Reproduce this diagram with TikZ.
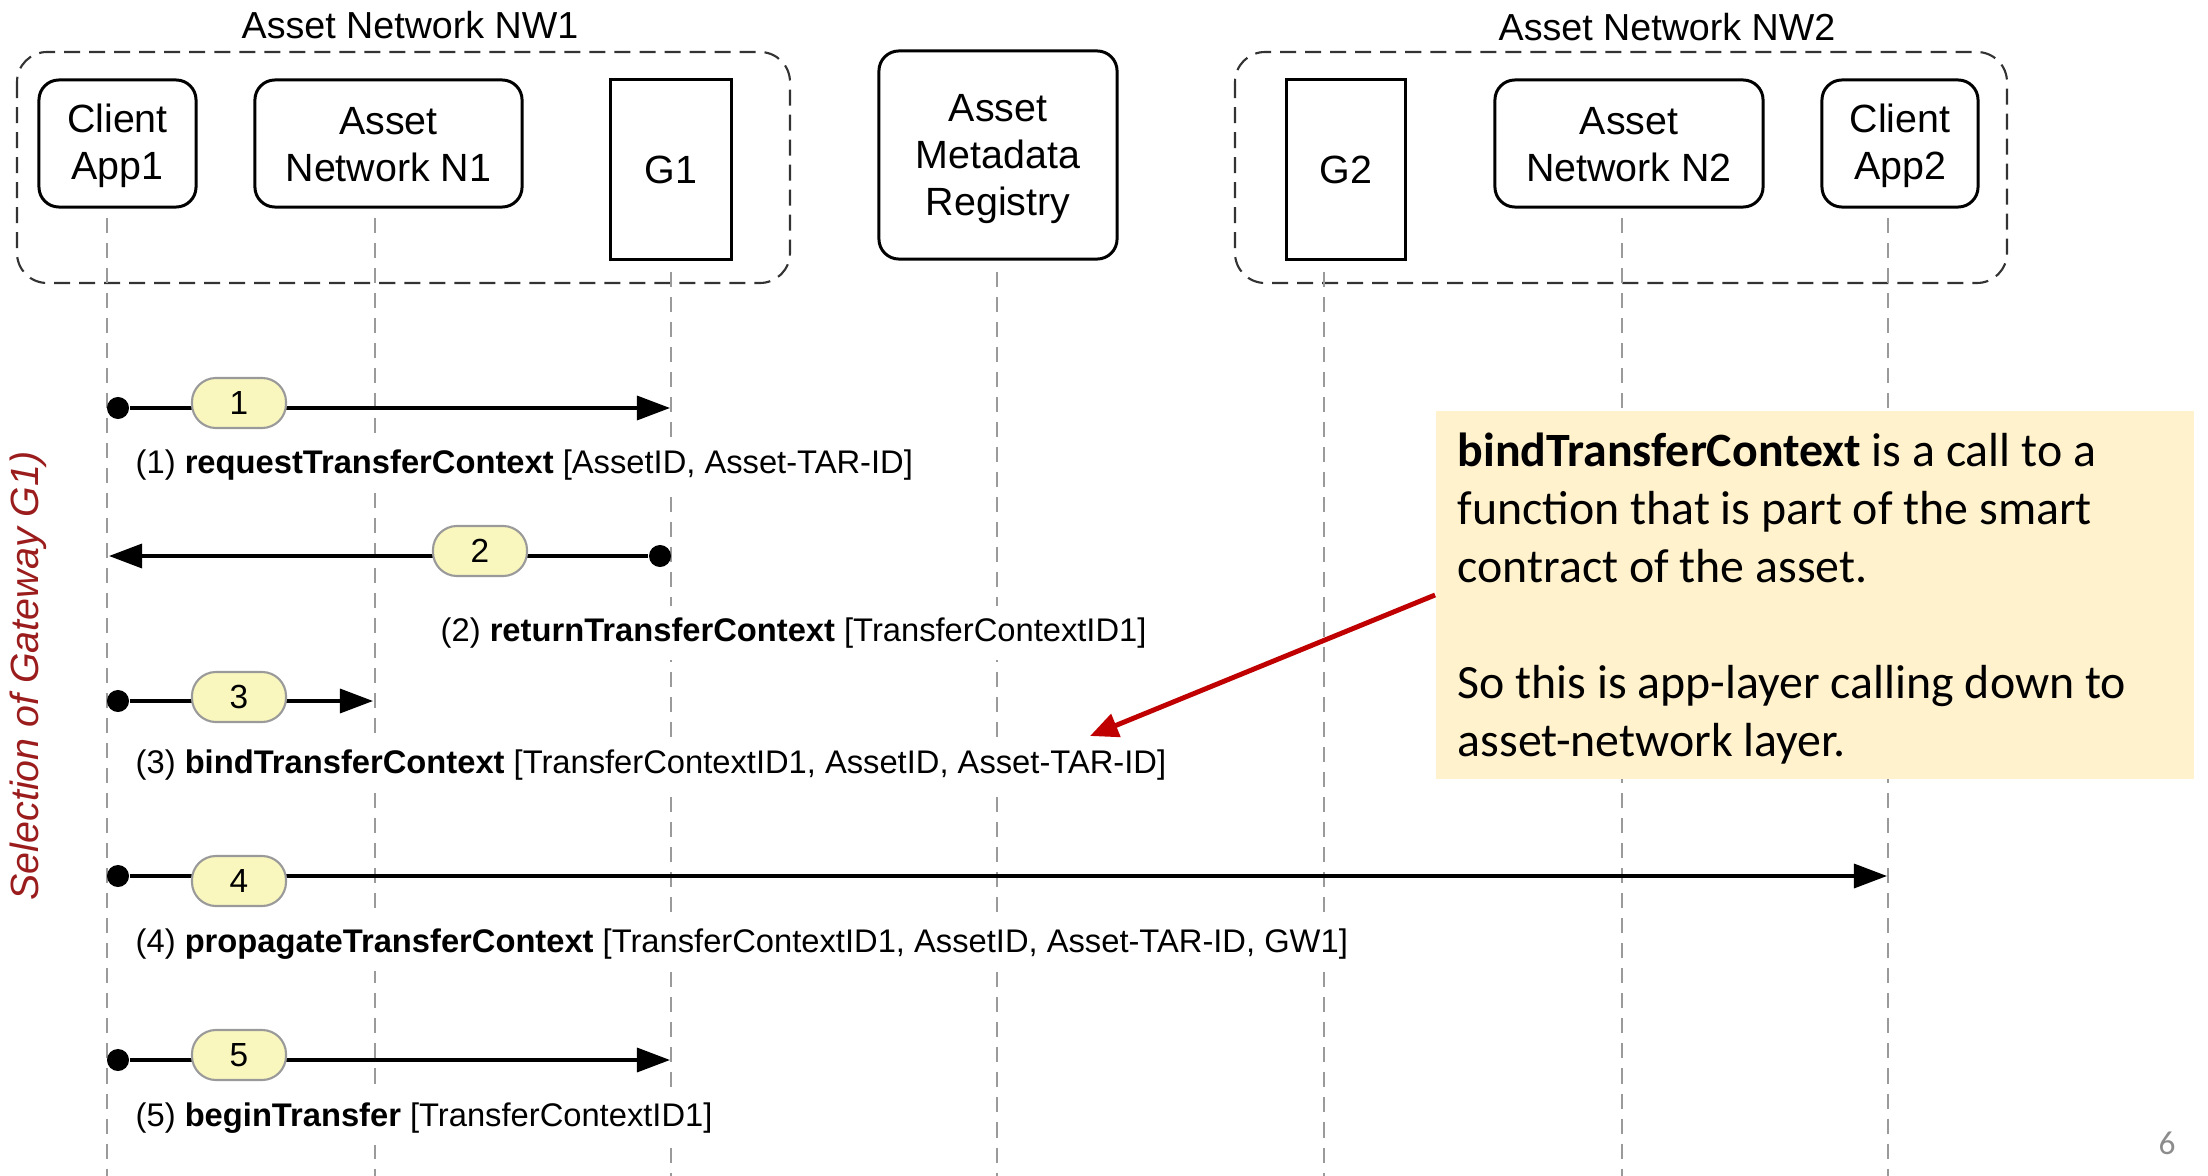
\documentclass[tikz,border=0pt]{standalone}
\usepackage{fontspec}
\setmainfont{Liberation Sans}
\newfontfamily\calibri{Carlito}
\usetikzlibrary{arrows.meta}
\definecolor{bubblefill}{HTML}{FAF7BE}
\definecolor{bubbleline}{HTML}{9A9A9A}
\definecolor{lifegray}{HTML}{9A9A9A}
\definecolor{notefill}{HTML}{FFF2CC}
\definecolor{notered}{HTML}{C00000}
\definecolor{vertred}{HTML}{9B1C1C}
\definecolor{pagegray}{HTML}{8C8C8C}
\begin{document}
\begin{tikzpicture}[x=0.01cm, y=-0.01cm,
 actor/.style={draw, line width=0.85pt, rounded corners=0.2cm, fill=white, align=center, font=\fontsize{11.2}{13.4}\selectfont, inner sep=0pt},
 boxtext/.style={align=center, font=\fontsize{11.2}{13.4}\selectfont, inner sep=0pt},
 gate/.style={draw, line width=0.85pt, fill=white, font=\fontsize{11.2}{13.4}\selectfont, inner sep=0pt},
 frame/.style={draw=black!80, line width=0.6pt, dash pattern=on 0.16cm off 0.09cm, rounded corners=0.3cm},
 lifeline/.style={draw=lifegray, line width=0.8pt, dash pattern=on 0.15cm off 0.1cm},
 msg/.style={line width=0.95pt, -{Triangle[length=0.33cm,width=0.24cm]}},
 dotc/.style={circle, fill=black, inner sep=0pt, minimum size=0.22cm},
 bubble/.style={draw=bubbleline, line width=0.6pt, fill=bubblefill, rounded corners=0.24cm, minimum width=0.94cm, minimum height=0.5cm, inner sep=0pt, font=\fontsize{9.5}{11}\selectfont},
 msglabel/.style={fill=white, anchor=west, inner xsep=0.05cm, inner ysep=0.12cm, font=\fontsize{9.3}{11}\selectfont},
 titletext/.style={font=\fontsize{10.7}{12.8}\selectfont},
 redarrow/.style={draw=notered, line width=1.4pt, -{Triangle[length=0.28cm,width=0.24cm]}},
]
\useasboundingbox (0,0) rectangle (2208,1176);
\fill[white] (0,0) rectangle (2208,1176);

% group frames
\draw[frame] (17,52) rectangle (790,283);
\draw[frame] (1235,52) rectangle (2007,283);
\node[titletext] (nw1) at (410,25) {Asset Network NW1};
\node[titletext] (nw2) at (1667,27) {Asset Network NW2};

% lifelines
\coordinate (l1t) at (107,218);  \coordinate (l1b) at (107,1176);
\coordinate (l2t) at (375,218);  \coordinate (l2b) at (375,1176);
\coordinate (l3t) at (671,272);  \coordinate (l3b) at (671,1176);
\coordinate (l4t) at (997,272);  \coordinate (l4b) at (997,1176);
\coordinate (l5t) at (1324,272); \coordinate (l5b) at (1324,1176);
\coordinate (l6t) at (1622,218); \coordinate (l6b) at (1622,1176);
\coordinate (l7t) at (1888,218); \coordinate (l7b) at (1888,1176);
\foreach \i in {1,...,7} { \draw[lifeline] (l\i t) -- (l\i b); }

% participants
\node[actor, minimum width=1.57cm, minimum height=1.27cm] (app1) at (117.5,143.5) {};
\node[boxtext] (app1t) at (117.5,146) {Client\\App1};
\node[actor, minimum width=2.67cm, minimum height=1.27cm] (n1) at (388.5,143.5) {};
\node[boxtext] (n1t) at (388.5,145) {Asset\\Network N1};
\node[gate, minimum width=1.2cm, minimum height=1.79cm] (g1) at (671,169.5) {G1};
\node[actor, minimum width=2.38cm, minimum height=2.08cm] (reg) at (998,155) {};
\node[boxtext] (regt) at (998,159) {Asset\\Metadata\\Registry};
\node[gate, minimum width=1.18cm, minimum height=1.79cm] (g2) at (1346,169.5) {G2};
\node[actor, minimum width=2.68cm, minimum height=1.27cm] (n2) at (1629,143.5) {};
\node[boxtext] (n2t) at (1629,145) {Asset\\Network N2};
\node[actor, minimum width=1.56cm, minimum height=1.27cm] (app2) at (1900,143.5) {};
\node[boxtext] (app2t) at (1900,146) {Client\\App2};

% message labels
\node[msglabel] (t1) at (130,465) {(1) \textbf{requestTransferContext} [AssetID, Asset-TAR-ID]};
\node[msglabel] (t2) at (435,633) {(2) \textbf{returnTransferContext} [TransferContextID1]};
\node[msglabel] (t3) at (130,765) {(3) \textbf{bindTransferContext} [TransferContextID1, AssetID, Asset-TAR-ID]};
\node[msglabel] (t4) at (130,944) {(4) \textbf{propagateTransferContext} [TransferContextID1, AssetID, Asset-TAR-ID, GW1]};
\node[msglabel] (t5) at (130,1118) {(5) \textbf{beginTransfer} [TransferContextID1]};

% messages
\node[dotc] (d1) at (118,408) {};  \coordinate (e1) at (670,408);
\node[dotc] (d2) at (660,556) {};  \coordinate (e2) at (109,556);
\node[dotc] (d3) at (118,701) {};  \coordinate (e3) at (373,701);
\node[dotc] (d4) at (118,876) {};  \coordinate (e4) at (1887,876);
\node[dotc] (d5) at (118,1060) {}; \coordinate (e5) at (670,1060);
\draw[msg] (d1) -- (e1);
\draw[msg] (d2) -- (e2);
\draw[msg] (d3) -- (e3);
\draw[msg] (d4) -- (e4);
\draw[msg] (d5) -- (e5);

\node[bubble] (b1) at (239,403) {1};
\node[bubble] (b2) at (480,551) {2};
\node[bubble] (b3) at (239,697) {3};
\node[bubble] (b4) at (239,881) {4};
\node[bubble] (b5) at (239,1055) {5};

% note
\node[fill=notefill, minimum width=7.58cm, minimum height=3.68cm, inner sep=0pt] (note) at (1815,595) {};
\node[anchor=north west, inner sep=0pt, align=left, font=\calibri\fontsize{13.6}{16.5}\selectfont] (notetext) at (1457,432)
 {\textbf{bindTransferContext} is a call to a\\function that is part of the smart\\contract of the asset.\\[16.5pt]So this is app-layer calling down to\\asset-network layer.};
\coordinate (rtip) at (1090,736);
\draw[redarrow] (note.west) -- (rtip);

% side label and page number
\node[rotate=90, text=vertred, font=\itshape\fontsize{11.2}{13.4}\selectfont] (side) at (28,676) {Selection of Gateway G1)};
\node[text=pagegray, font=\calibri\fontsize{9.5}{11}\selectfont] (pg) at (2167,1143) {6};
\end{tikzpicture}
\end{document}
